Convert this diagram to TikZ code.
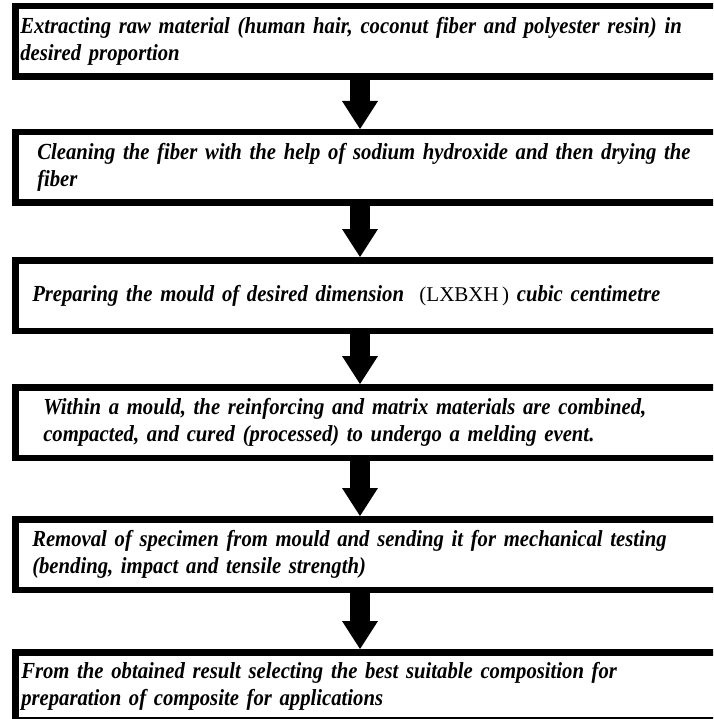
\documentclass[tikz,border=0pt]{standalone}
\usepackage{fontspec}
\setmainfont{Liberation Serif}
\newfontfamily\stepfont[FakeStretch=0.9,WordSpace=0.85]{Liberation Serif}
\usetikzlibrary{positioning,arrows.meta}

\begin{document}
\begin{tikzpicture}[node distance=50pt]
  \tikzstyle{stepbox}=[draw, line width=6.5pt, anchor=north west, minimum height=70.5pt,
    text width=700pt, align=left, font=\stepfont\fontsize{23}{27}\selectfont\bfseries\itshape]
  \tikzstyle{flow}=[line width=20pt, -{Triangle[width=36pt,length=28pt,line width=0pt]}]
  \path[use as bounding box, clip] (0,0) rectangle (713pt,-719pt);
  \node[stepbox, inner xsep=5pt]                                                 (extract) at (12pt,-3pt) {Extracting raw material (human hair, coconut fiber and polyester resin) in\\desired proportion};
  \node[stepbox, inner xsep=22pt, below = 49pt of extract.south west, anchor=north west] (clean)   {Cleaning the fiber with the help of sodium hydroxide and then drying the\\fiber};
  \node[stepbox, inner xsep=17pt, below = 51pt of clean.south west, anchor=north west]   (mould)   {Preparing the mould of desired dimension\ \ {\normalfont\fontsize{21}{27}\selectfont (LXBXH\,)} cubic centimetre};
  \node[stepbox, inner xsep=28pt, below = 50pt of mould.south west, anchor=north west]   (cure)    {Within a mould, the reinforcing and matrix materials are combined,\\compacted, and cured (processed) to undergo a melding event.};
  \node[stepbox, inner xsep=17pt, below = 55pt of cure.south west, anchor=north west]    (test)    {Removal of specimen from mould and sending it for mechanical testing\\(bending, impact and tensile strength)};
  \node[stepbox, inner xsep=6pt,  below = 56pt of test.south west, anchor=north west, minimum height=68pt] (select) {From the obtained result selecting the best suitable composition for\\preparation of composite for applications};

  \coordinate (axis) at (360pt,0);
  \draw[flow] (axis |- extract.south) -- (axis |- clean.north);
  \draw[flow] (axis |- clean.south)   -- (axis |- mould.north);
  \draw[flow] (axis |- mould.south)   -- (axis |- cure.north);
  \draw[flow] (axis |- cure.south)    -- (axis |- test.north);
  \draw[flow] (axis |- test.south)    -- (axis |- select.north);
\end{tikzpicture}
\end{document}
